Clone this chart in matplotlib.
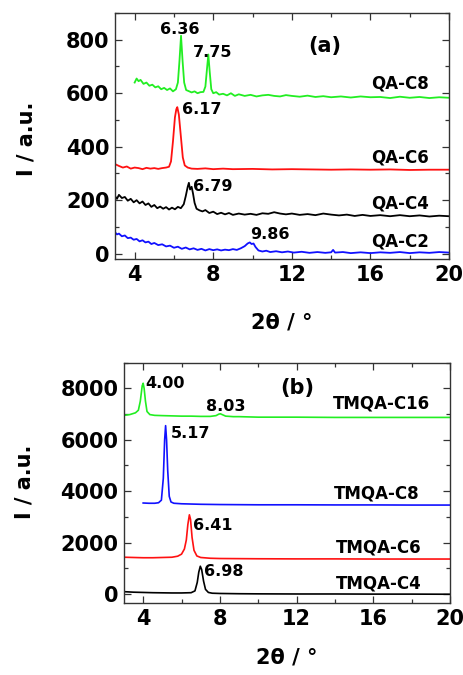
import numpy as np
import matplotlib
matplotlib.use("Agg")
import matplotlib.pyplot as plt
from matplotlib.ticker import MultipleLocator

plt.rcParams['font.family'] = ['DejaVu Sans']
plt.rcParams['font.weight'] = 'bold'

# ---------------- Panel (a) data: [2theta, intensity] ----------------
qa_c8 = np.array([
    [4.0, 640], [4.1, 655], [4.2, 645], [4.3, 650], [4.45, 635], [4.6, 640], [4.75, 628], [4.9, 632],
    [5.05, 622], [5.2, 626], [5.35, 615], [5.5, 620], [5.65, 612], [5.8, 618], [5.95, 607], [6.1, 615],
    [6.2, 640], [6.28, 720], [6.36, 815], [6.44, 720], [6.52, 640], [6.62, 612], [6.75, 608], [6.9, 603],
    [7.05, 607], [7.2, 600], [7.35, 604], [7.5, 605], [7.6, 625], [7.68, 690], [7.75, 745], [7.82, 680],
    [7.9, 615], [8.0, 600], [8.15, 604], [8.3, 595], [8.5, 598], [8.7, 592], [8.9, 600], [9.1, 590],
    [9.3, 596], [9.6, 590], [9.9, 594], [10.2, 588], [10.5, 592], [10.8, 594], [11.1, 590], [11.4, 588],
    [11.7, 593], [12.0, 590], [12.4, 587], [12.8, 591], [13.2, 586], [13.6, 589], [14.0, 585], [14.5, 588],
    [15.0, 584], [15.5, 588], [16.0, 585], [16.5, 586], [17.0, 582], [17.5, 587], [18.0, 583], [18.5, 586],
    [19.0, 582], [19.5, 585], [20.0, 583]])

qa_c6 = np.array([
    [3.0, 335], [3.2, 328], [3.4, 322], [3.6, 326], [3.8, 318], [4.0, 322], [4.2, 320], [4.4, 316],
    [4.6, 321], [4.8, 318], [5.0, 320], [5.2, 317], [5.4, 320], [5.6, 322], [5.75, 325], [5.85, 345],
    [5.95, 420], [6.05, 510], [6.12, 540], [6.17, 548], [6.25, 520], [6.35, 440], [6.45, 360], [6.55, 330],
    [6.7, 322], [6.9, 318], [7.2, 317], [7.6, 319], [8.0, 316], [8.5, 318], [9.0, 316], [10, 317],
    [11, 315], [12, 316], [13, 315], [14, 314], [15, 315], [16, 314], [17, 315], [18, 313], [19, 314], [20, 314]])

qa_c4 = np.array([
    [3.0, 215], [3.1, 205], [3.2, 220], [3.35, 208], [3.5, 212], [3.65, 198], [3.8, 205], [3.95, 192],
    [4.1, 200], [4.25, 188], [4.4, 195], [4.55, 182], [4.7, 188], [4.85, 175], [5.0, 182], [5.15, 170],
    [5.3, 176], [5.45, 168], [5.6, 174], [5.75, 165], [5.9, 172], [6.05, 166], [6.2, 175], [6.35, 170],
    [6.5, 185], [6.6, 215], [6.7, 250], [6.76, 265], [6.82, 240], [6.9, 250], [6.97, 225], [7.05, 190],
    [7.15, 168], [7.3, 162], [7.45, 158], [7.6, 163], [7.8, 152], [8.0, 157], [8.2, 148], [8.4, 153],
    [8.6, 147], [8.8, 152], [9.0, 145], [9.3, 150], [9.6, 146], [9.9, 149], [10.2, 145], [10.5, 151],
    [10.8, 149], [11.1, 155], [11.4, 150], [11.7, 147], [12.0, 150], [12.4, 145], [12.8, 148], [13.2, 144],
    [13.6, 150], [14.0, 146], [14.4, 143], [14.8, 146], [15.2, 141], [15.6, 145], [16.0, 141], [16.5, 144],
    [17.0, 140], [17.5, 144], [18.0, 140], [18.5, 143], [19.0, 139], [19.5, 142], [20.0, 140]])

qa_c2 = np.array([
    [3.0, 80], [3.1, 72], [3.2, 75], [3.35, 65], [3.5, 68], [3.65, 58], [3.8, 60], [3.95, 52],
    [4.1, 55], [4.25, 46], [4.4, 50], [4.55, 42], [4.7, 45], [4.85, 36], [5.0, 40], [5.2, 32],
    [5.4, 35], [5.6, 27], [5.8, 30], [6.0, 22], [6.2, 26], [6.4, 18], [6.6, 23], [6.8, 16],
    [7.0, 20], [7.2, 14], [7.4, 18], [7.6, 12], [7.8, 17], [8.0, 13], [8.2, 16], [8.4, 12],
    [8.6, 15], [8.8, 13], [9.0, 17], [9.2, 14], [9.4, 20], [9.6, 28], [9.75, 38], [9.86, 42],
    [9.95, 36], [10.05, 38], [10.15, 25], [10.3, 12], [10.5, 8], [10.7, 11], [10.9, 6], [11.2, 9],
    [11.5, 5], [11.8, 8], [12.1, 4], [12.5, 7], [12.9, 3], [13.3, 6], [13.7, 3], [14.0, 5],
    [14.1, 14], [14.2, 4], [14.6, 6], [15.0, 2], [15.5, 5], [16.0, 2], [16.5, 5], [17.0, 3],
    [17.5, 6], [18.0, 2], [18.5, 5], [19.0, 3], [19.5, 6], [20.0, 4]])

# ---------------- Panel (b) data ----------------
tmqa_c16 = np.array([
    [3.0, 6950], [3.3, 6980], [3.6, 7050], [3.75, 7150], [3.85, 7500], [3.95, 8100], [4.0, 8200],
    [4.05, 8000], [4.12, 7500], [4.2, 7100], [4.35, 6980], [4.6, 6950], [5.0, 6940], [5.5, 6930],
    [6.0, 6920], [6.5, 6920], [7.0, 6910], [7.5, 6910], [7.8, 6940], [7.95, 7000], [8.03, 7010],
    [8.12, 6980], [8.3, 6920], [8.7, 6900], [9.0, 6900], [9.5, 6890], [10, 6880], [11, 6880],
    [12, 6880], [14, 6870], [16, 6870], [18, 6870], [20, 6870]])

tmqa_c8 = np.array([
    [4.0, 3540], [4.3, 3530], [4.6, 3530], [4.8, 3550], [4.95, 3650], [5.05, 4500], [5.12, 6000],
    [5.17, 6550], [5.22, 6000], [5.28, 4800], [5.36, 3800], [5.45, 3580], [5.6, 3530], [6.0, 3510],
    [6.5, 3500], [7, 3490], [8, 3480], [10, 3470], [12, 3470], [14, 3465], [16, 3465], [18, 3460],
    [20, 3460]])

tmqa_c6 = np.array([
    [3.0, 1430], [3.5, 1420], [4.0, 1410], [4.5, 1410], [5.0, 1420], [5.5, 1430], [5.8, 1470],
    [6.0, 1550], [6.15, 1750], [6.25, 2100], [6.33, 2700], [6.41, 3080], [6.47, 2900], [6.55, 2200],
    [6.65, 1700], [6.8, 1480], [7.0, 1420], [7.5, 1390], [8, 1380], [10, 1370], [12, 1365],
    [14, 1365], [16, 1360], [18, 1360], [20, 1360]])

tmqa_c4 = np.array([
    [3.0, 90], [3.5, 70], [4.0, 60], [4.5, 50], [5.0, 45], [5.5, 40], [6.0, 40], [6.5, 50],
    [6.7, 120], [6.82, 450], [6.9, 850], [6.98, 1080], [7.05, 950], [7.15, 500], [7.25, 180],
    [7.4, 60], [7.6, 30], [8, 20], [9, 10], [10, 5], [12, 0], [14, 0], [16, -5], [18, -5], [20, -10]])

series_a = [qa_c8, qa_c6, qa_c4, qa_c2]
colors_a = ['#22ee22', '#ff1111', '#000000', '#1111ff']
names_a = ['QA-C8', 'QA-C6', 'QA-C4', 'QA-C2']
name_pos_a = [(19.0, 638), (19.0, 358), (19.0, 189), (19.0, 44)]
peaks_a = ['6.36', '7.75', '6.17', '6.79', '9.86']
peak_pos_a = [(6.3, 838, 'center'), (7.95, 752, 'center'), (6.39, 538, 'left'), (6.98, 252, 'left'), (9.89, 71, 'left')]

series_b = [tmqa_c16, tmqa_c8, tmqa_c6, tmqa_c4]
colors_b = ['#22ee22', '#1111ff', '#ff1111', '#000000']
names_b = ['TMQA-C16', 'TMQA-C8', 'TMQA-C6', 'TMQA-C4']
name_pos_b = [(18.95, 7417), (18.4, 3917), (18.5, 1816), (18.5, 416)]
peaks_b = ['4.00', '8.03', '5.17', '6.41', '6.98']
peak_pos_b = [(4.13, 8195, 'left'), (8.3, 7312, 'center'), (5.45, 6250, 'left'), (6.62, 2684, 'left'), (7.17, 868, 'left')]

xticks = [4, 8, 12, 16, 20]

fig = plt.figure(figsize=(4.63, 6.75), dpi=100)
ax1 = fig.add_axes([0.2484, 0.6163, 0.7214, 0.3644])
ax2 = fig.add_axes([0.2678, 0.1067, 0.7041, 0.3560])


def style(ax, ymaj, ymin):
    ax.set_xlim(3, 20)
    ax.set_xticks(xticks)
    ax.xaxis.set_minor_locator(MultipleLocator(2))
    ax.yaxis.set_major_locator(MultipleLocator(ymaj))
    ax.yaxis.set_minor_locator(MultipleLocator(ymin))
    ax.tick_params(which='both', direction='in', top=True, right=True, width=0.9, colors='#333333',
                   labelcolor='black')
    ax.tick_params(which='major', length=5, labelsize=15, pad=4)
    ax.tick_params(which='minor', length=3)
    for lab in ax.get_xticklabels() + ax.get_yticklabels():
        lab.set_fontweight('bold')
    for s in ax.spines.values():
        s.set_linewidth(1.0)
        s.set_color('#333333')


for d, c in zip(series_a, colors_a):
    ax1.plot(d[:, 0], d[:, 1], color=c, lw=1.3)
ax1.set_ylim(-20, 900)
ax1.set_yticks([0, 200, 400, 600, 800])
style(ax1, 200, 100)
for n, (x, y) in zip(names_a, name_pos_a):
    ax1.text(x, y, n, ha='right', va='center', fontsize=12, fontweight='bold')
for t, (x, y, ha) in zip(peaks_a, peak_pos_a):
    ax1.text(x, y, t, ha=ha, va='center', fontsize=11.5, fontweight='bold')
ax1.text(13.7, 775, '(a)', ha='center', va='center', fontsize=15, fontweight='bold')

for d, c in zip(series_b, colors_b):
    ax2.plot(d[:, 0], d[:, 1], color=c, lw=1.2)
ax2.set_ylim(-350, 9000)
style(ax2, 2000, 1000)
for n, (x, y) in zip(names_b, name_pos_b):
    ax2.text(x, y, n, ha='right', va='center', fontsize=12, fontweight='bold')
for t, (x, y, ha) in zip(peaks_b, peak_pos_b):
    ax2.text(x, y, t, ha=ha, va='center', fontsize=11.5, fontweight='bold')
ax2.text(12.06, 8000, '(b)', ha='center', va='center', fontsize=15, fontweight='bold')

fig.text(0.608, 0.5215, '2θ / °', ha='center', va='center', fontsize=15, fontweight='bold')
fig.text(0.619, 0.026, '2θ / °', ha='center', va='center', fontsize=15, fontweight='bold')
fig.text(0.0576, 0.794, 'I / a.u.', ha='center', va='center', rotation=90, fontsize=15, fontweight='bold')
fig.text(0.052, 0.2864, 'I / a.u.', ha='center', va='center', rotation=90, fontsize=15, fontweight='bold')

fig.savefig('out.png', dpi=100, facecolor='white')
